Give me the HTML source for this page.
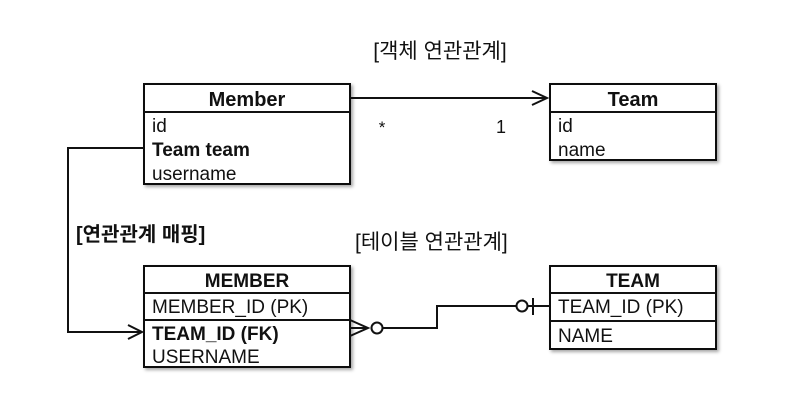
<!DOCTYPE html>
<html><head><meta charset="utf-8"><style>
body{margin:0;background:#fff;}
svg text{font-family:"Liberation Sans","Noto Sans CJK KR",sans-serif;fill:#111;}
</style></head><body>
<svg width="794" height="415" viewBox="0 0 794 415" xmlns="http://www.w3.org/2000/svg">
<defs><filter id="sh" x="-5%" y="-5%" width="115%" height="120%"><feDropShadow dx="2" dy="2" stdDeviation="1.5" flood-color="#000" flood-opacity="0.35"/></filter></defs>
<g stroke="#111" stroke-width="2" fill="#fff">
<rect x="144" y="84" width="206" height="100" filter="url(#sh)"/>
<line x1="144" y1="112" x2="350" y2="112"/>
<rect x="550" y="84" width="166" height="76" filter="url(#sh)"/>
<line x1="550" y1="112" x2="716" y2="112"/>
<rect x="144" y="266" width="206" height="101" filter="url(#sh)"/>
<line x1="144" y1="293" x2="350" y2="293"/>
<line x1="144" y1="320" x2="350" y2="320"/>
<rect x="550" y="266" width="166" height="83" filter="url(#sh)"/>
<line x1="550" y1="293" x2="716" y2="293"/>
<line x1="550" y1="321" x2="716" y2="321"/>
</g>
<g stroke="#111" stroke-width="2" fill="none">
<line x1="350" y1="98" x2="547" y2="98"/>
<polyline points="532,91 547,98 532,105"/>
<polyline points="144,148 68,148 68,332 142,332"/>
<polyline points="128,325 142,332 128,339"/>
<polyline points="350,320 368,328 350,336"/>
<line x1="350" y1="328" x2="368" y2="328"/>
<circle cx="377" cy="328" r="5.5" fill="#fff"/>
<polyline points="383,328 437,328 437,306 516,306"/>
<circle cx="522" cy="306" r="5.5" fill="#fff"/>
<line x1="528" y1="306" x2="550" y2="306"/>
<line x1="533" y1="298" x2="533" y2="315"/>
</g>
<text x="440" y="58" font-size="21" text-anchor="middle">[객체 연관관계]</text>
<text x="247" y="106" font-size="20" font-weight="bold" text-anchor="middle">Member</text>
<text x="152" y="132" font-size="19">id</text>
<text x="152" y="156" font-size="19" font-weight="bold">Team team</text>
<text x="152" y="180" font-size="19">username</text>
<text x="633" y="106" font-size="20" font-weight="bold" text-anchor="middle">Team</text>
<text x="558" y="132" font-size="19">id</text>
<text x="558" y="156" font-size="19">name</text>
<text x="382" y="133" font-size="17" text-anchor="middle">*</text>
<text x="501" y="133" font-size="18" text-anchor="middle">1</text>
<text x="76" y="241" font-size="20" font-weight="bold">[연관관계 매핑]</text>
<text x="355" y="249" font-size="21">[테이블 연관관계]</text>
<text x="247" y="287" font-size="19" font-weight="bold" text-anchor="middle">MEMBER</text>
<text x="152" y="313" font-size="19">MEMBER_ID (PK)</text>
<text x="152" y="340" font-size="19" font-weight="bold">TEAM_ID (FK)</text>
<text x="152" y="363" font-size="19">USERNAME</text>
<text x="633" y="287" font-size="19" font-weight="bold" text-anchor="middle">TEAM</text>
<text x="558" y="313" font-size="19">TEAM_ID (PK)</text>
<text x="558" y="342" font-size="19">NAME</text>
</svg>
</body></html>
